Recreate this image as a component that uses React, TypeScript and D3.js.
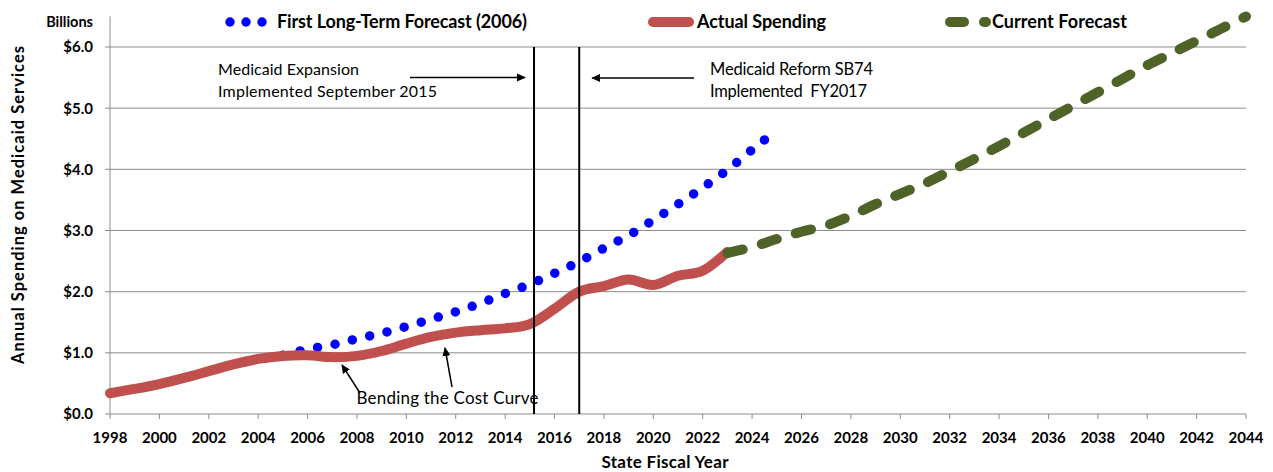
import React, { useLayoutEffect, useRef, useState } from 'react';
import * as d3 from 'd3';

const actualYears = [1998, 1999, 2000, 2001, 2002, 2003, 2004, 2005, 2006, 2007, 2008, 2009, 2010, 2011, 2012, 2013, 2014, 2015, 2016, 2017, 2018, 2019, 2020, 2021, 2022, 2023];
const actualValues = [0.34, 0.41, 0.49, 0.59, 0.70, 0.81, 0.90, 0.95, 0.96, 0.93, 0.95, 1.03, 1.15, 1.26, 1.33, 1.37, 1.40, 1.47, 1.72, 2.00, 2.09, 2.20, 2.11, 2.26, 2.34, 2.65];

const firstForecastYears = [2005, 2006, 2007, 2008, 2009, 2010, 2011, 2012, 2013, 2014, 2015, 2016, 2017, 2018, 2019, 2020, 2021, 2022, 2023, 2024, 2024.5];
const firstForecastValues = [0.96, 1.06, 1.13, 1.23, 1.32, 1.43, 1.55, 1.67, 1.81, 1.97, 2.12, 2.30, 2.49, 2.71, 2.92, 3.17, 3.43, 3.70, 3.99, 4.32, 4.48];

const currentForecastYears = [2023, 2024, 2025, 2026, 2027, 2028, 2029, 2030, 2031, 2032, 2033, 2034, 2035, 2036, 2037, 2038, 2039, 2040, 2041, 2042, 2043, 2044];
const currentForecastValues = [2.63, 2.73, 2.86, 2.98, 3.08, 3.24, 3.43, 3.60, 3.77, 3.97, 4.17, 4.38, 4.60, 4.82, 5.04, 5.26, 5.48, 5.70, 5.90, 6.10, 6.30, 6.50];

const xTickYears = [1998, 2000, 2002, 2004, 2006, 2008, 2010, 2012, 2014, 2016, 2018, 2020, 2022, 2024, 2026, 2028, 2030, 2032, 2034, 2036, 2038, 2040, 2042, 2044];
const yTickValues = [0, 1, 2, 3, 4, 5, 6];
const yTickLabels = ['$0.0', '$1.0', '$2.0', '$3.0', '$4.0', '$5.0', '$6.0'];
const eventYears = [2015.17, 2017.0];

const legendLabels = ['First Long-Term Forecast (2006)', 'Actual Spending', 'Current Forecast'];

const FONT = "Lato, 'Open Sans', sans-serif";
const BLUE = '#0000FF';
const RED = '#C0504D';
const GREEN = '#4F6228';
const GRID = '#8C8C8C';

const DOT_INTERVALS = 30;

export default function App() {
  const x = d3.scaleLinear().domain([1998, 2044]).range([110, 1246]);
  const y = d3.scaleLinear().domain([0, 6.5]).range([414, 16.4]);

  const line = d3
    .line<[number, number]>()
    .x((d) => x(d[0]))
    .y((d) => y(d[1]))
    .curve(d3.curveCardinal.tension(0));

  const actual = actualYears.map((yr, i) => [yr, actualValues[i]] as [number, number]);
  const first = firstForecastYears.map((yr, i) => [yr, firstForecastValues[i]] as [number, number]);
  const current = currentForecastYears.map((yr, i) => [yr, currentForecastValues[i]] as [number, number]);

  const blueRef = useRef<SVGPathElement>(null);
  const [dotGap, setDotGap] = useState(17.9);
  useLayoutEffect(() => {
    if (blueRef.current) {
      const L = blueRef.current.getTotalLength();
      setDotGap(L / DOT_INTERVALS - 0.002);
    }
  }, []);

  const x0 = x(1998);
  const x1 = x(2044);
  const yBase = y(0);

  return (
    <svg
      width={1273}
      height={472}
      style={{ position: 'absolute', left: 0, top: 0, background: '#fff' }}
      fontFamily={FONT}
    >
      <defs>
        <marker id="ah" viewBox="0 0 10 10" refX="9" refY="5" markerWidth="9" markerHeight="9" markerUnits="userSpaceOnUse" orient="auto">
          <path d="M0,0.5 L10,5 L0,9.5 Z" fill="#000" />
        </marker>
      </defs>

      {/* gridlines */}
      {yTickValues.slice(1).map((v) => (
        <line key={v} x1={x0} x2={x1} y1={y(v)} y2={y(v)} stroke={GRID} strokeWidth={1} />
      ))}

      {/* axes */}
      <line x1={x0} x2={x0} y1={y(6.5)} y2={yBase} stroke={GRID} strokeWidth={1} />
      <line x1={x0} x2={x1} y1={yBase} y2={yBase} stroke={GRID} strokeWidth={1} />
      {yTickValues.map((v, i) => (
        <g key={v}>
          <line x1={x0 - 5} x2={x0} y1={y(v)} y2={y(v)} stroke={GRID} />
          <text x={93} y={y(v)} dy="0.36em" textAnchor="end" fontSize={15} fontWeight={700} fill="#000">
            {yTickLabels[i]}
          </text>
        </g>
      ))}
      {xTickYears.map((yr) => (
        <g key={yr}>
          <line x1={x(yr)} x2={x(yr)} y1={yBase} y2={yBase + 5} stroke={GRID} />
          <text x={x(yr)} y={443} textAnchor="middle" fontSize={15} fontWeight={700} fill="#000">
            {yr}
          </text>
        </g>
      ))}

      <text x={93} y={27} textAnchor="end" fontSize={14.5} fontWeight={700} fill="#000">Billions</text>
      <text x={665} y={468} textAnchor="middle" fontSize={17} fontWeight={700} fill="#000" textLength={127}>State Fiscal Year</text>
      <text
        transform={`translate(24, 205) rotate(-90)`}
        textAnchor="middle"
        fontSize={16.5}
        fontWeight={700}
        fill="#000"
        textLength={318}
      >
        Annual Spending on Medicaid Services
      </text>

      {/* series */}
      <path
        ref={blueRef}
        d={line(first) || ''}
        fill="none"
        stroke={BLUE}
        strokeWidth={9.5}
        strokeLinecap="round"
        strokeDasharray={`0 ${dotGap}`}
      />
      <path d={line(actual) || ''} fill="none" stroke={RED} strokeWidth={10} strokeLinecap="round" />
      <path
        d={line(current) || ''}
        fill="none"
        stroke={GREEN}
        strokeWidth={10}
        strokeLinecap="round"
        pathLength={579}
        strokeDasharray="16 20"
      />

      {/* event lines */}
      {eventYears.map((yr) => (
        <line key={yr} x1={x(yr)} x2={x(yr)} y1={y(6)} y2={yBase} stroke="#000" strokeWidth={2} />
      ))}

      {/* annotations */}
      <text x={218} y={74.5} fontSize={16} fill="#000" textLength={141}>Medicaid Expansion</text>
      <text x={218} y={96.7} fontSize={16} fill="#000" textLength={219}>Implemented September 2015</text>
      <line x1={410} y1={77.5} x2={x(eventYears[0]) - 9} y2={77.5} stroke="#000" strokeWidth={1.5} markerEnd="url(#ah)" />

      <text x={710} y={75} fontSize={16.5} fill="#000" textLength={163}>Medicaid Reform SB74</text>
      <text x={710} y={96.7} fontSize={16.5} fill="#000" style={{ whiteSpace: 'pre' }} textLength={157}>{'Implemented  FY2017'}</text>
      <line x1={694} y1={78} x2={x(eventYears[1]) + 13} y2={78} stroke="#000" strokeWidth={1.5} markerEnd="url(#ah)" />

      <text x={356.5} y={404} fontSize={17} fill="#000" textLength={182}>Bending the Cost Curve</text>
      <line x1={360} y1={393} x2={342} y2={365} stroke="#000" strokeWidth={1.5} markerEnd="url(#ah)" />
      <line x1={452} y1={387} x2={445} y2={348} stroke="#000" strokeWidth={1.5} markerEnd="url(#ah)" />

      {/* legend */}
      {[230, 246, 262].map((cx) => (
        <circle key={cx} cx={cx} cy={22} r={4.7} fill={BLUE} />
      ))}
      <text x={277} y={28} fontSize={18} fontWeight={700} fill="#000" textLength={250}>{legendLabels[0]}</text>

      <line x1={653} x2={689} y1={22} y2={22} stroke={RED} strokeWidth={10} strokeLinecap="round" />
      <text x={697} y={28} fontSize={18} fontWeight={700} fill="#000" textLength={129}>{legendLabels[1]}</text>

      <line x1={950} x2={964} y1={22} y2={22} stroke={GREEN} strokeWidth={10} strokeLinecap="round" />
      <line x1={984} x2={986} y1={22} y2={22} stroke={GREEN} strokeWidth={10} strokeLinecap="round" />
      <text x={992} y={28} fontSize={18} fontWeight={700} fill="#000" textLength={135}>{legendLabels[2]}</text>
    </svg>
  );
}
